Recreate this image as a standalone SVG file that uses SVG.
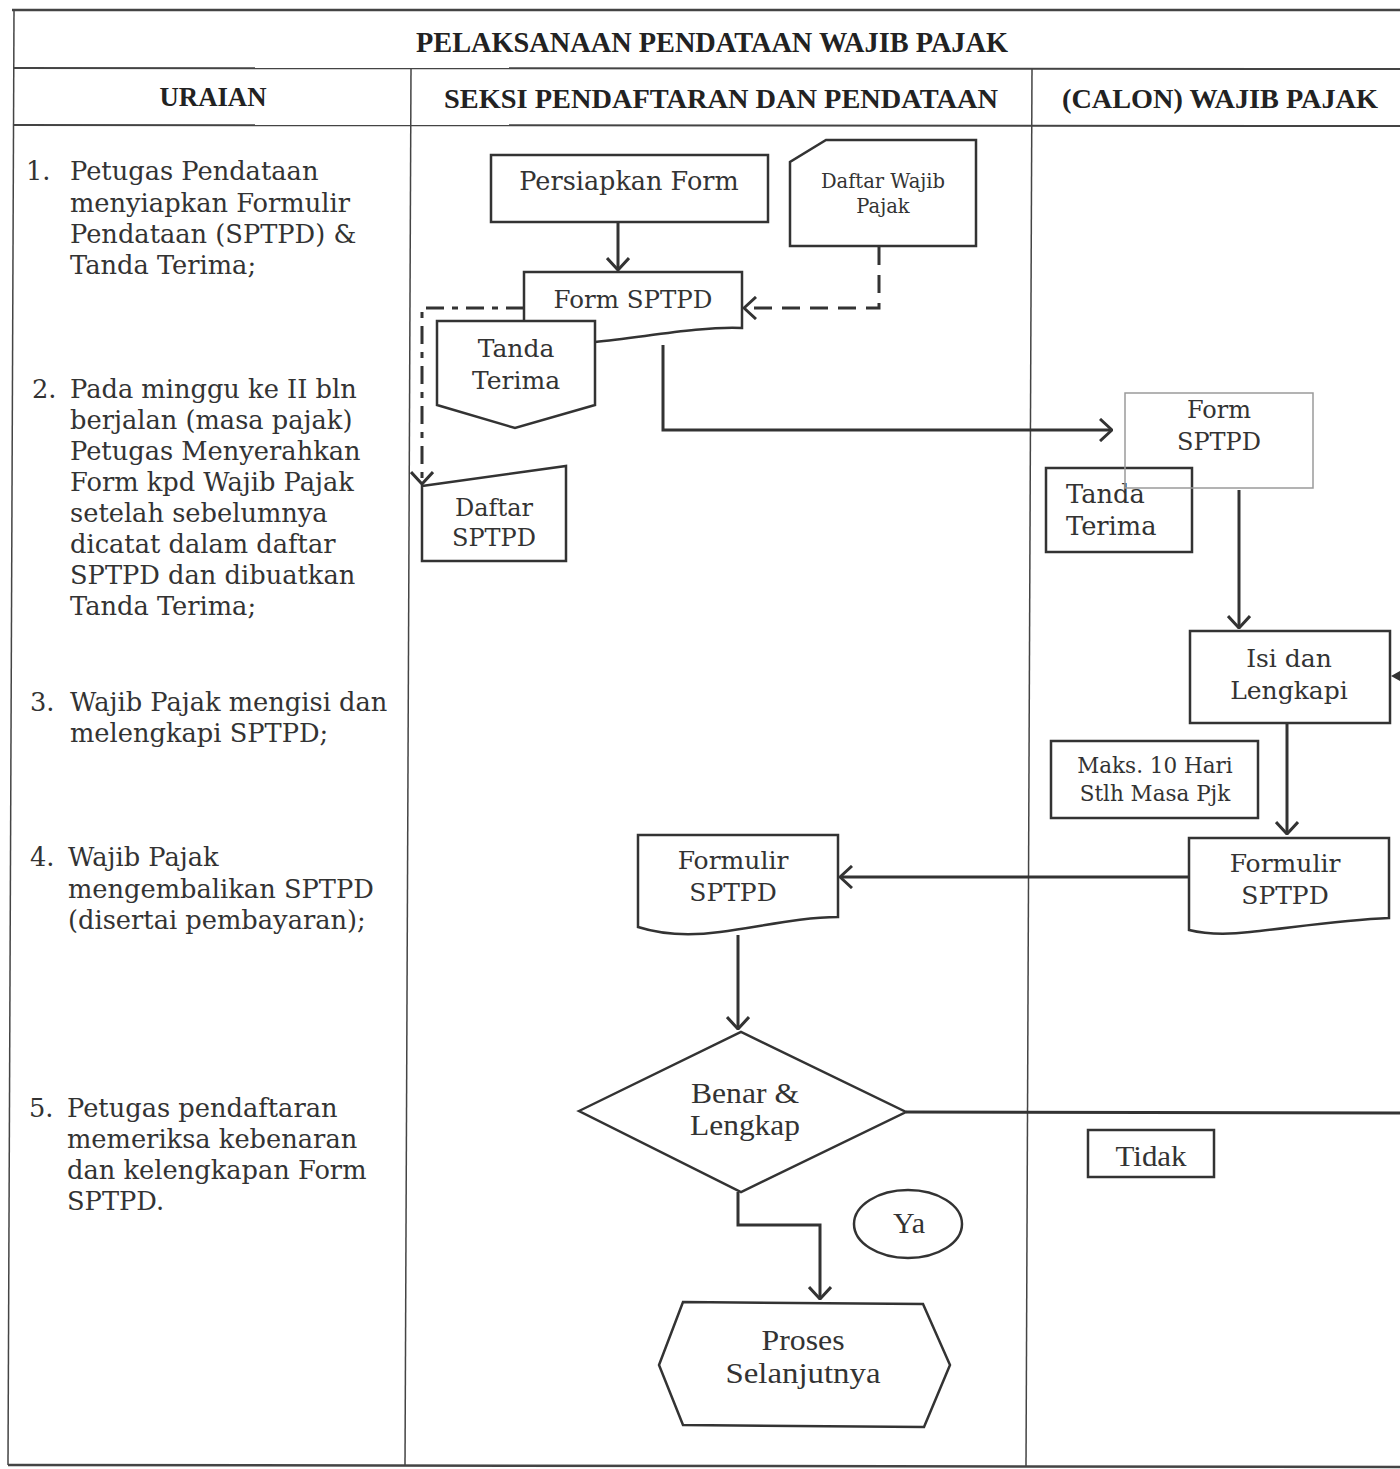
<svg xmlns="http://www.w3.org/2000/svg" width="1400" height="1469" viewBox="0 0 1400 1469">
<style>
.tbl{stroke:#444;fill:none}
.hd{font-family:"Liberation Serif",serif;font-weight:bold;fill:#222}
.desc{font-family:"DejaVu Serif",serif;font-size:25.7px;fill:#333}
.lbl{font-family:"DejaVu Serif",serif;fill:#333;text-anchor:middle}
.cnd{font-family:"Liberation Serif",serif;fill:#333;text-anchor:middle}
.shape{fill:#fff;stroke:#333;stroke-width:2.5}
.conn{fill:none;stroke:#333;stroke-width:3}
</style>
<defs>
<marker id="arr" viewBox="0 0 14 24" refX="13" refY="12" markerWidth="14" markerHeight="24" markerUnits="userSpaceOnUse" orient="auto">
<path d="M1,1 L13,12 L1,23" fill="none" stroke="#333" stroke-width="3"/>
</marker>
</defs>
<rect width="1400" height="1469" fill="#fff"/>

<g id="table">
<line class="tbl" x1="12" y1="10" x2="1400" y2="10" stroke-width="2.5"/>
<line class="tbl" x1="13" y1="68" x2="1400" y2="69" stroke-width="2"/>
<line class="tbl" x1="13" y1="125" x2="1400" y2="126" stroke-width="2"/>
<line class="tbl" x1="8" y1="1465" x2="1400" y2="1467" stroke-width="2.5"/>
<line class="tbl" x1="14" y1="10" x2="8" y2="1465" stroke-width="1.5"/>
<line class="tbl" x1="411" y1="68" x2="405" y2="1466" stroke-width="1.5"/>
<line class="tbl" x1="1032" y1="68" x2="1026" y2="1466" stroke-width="1.5"/>
<text class="hd" x="712" y="52" font-size="29" text-anchor="middle" textLength="592" lengthAdjust="spacingAndGlyphs">PELAKSANAAN PENDATAAN WAJIB PAJAK</text>
<text class="hd" x="213" y="106" font-size="27" text-anchor="middle" textLength="107" lengthAdjust="spacingAndGlyphs">URAIAN</text>
<text class="hd" x="721" y="108" font-size="28" text-anchor="middle" textLength="554" lengthAdjust="spacingAndGlyphs">SEKSI PENDAFTARAN DAN PENDATAAN</text>
<text class="hd" x="1220" y="108" font-size="28" text-anchor="middle" textLength="316" lengthAdjust="spacingAndGlyphs">(CALON) WAJIB PAJAK</text>
</g>

<g id="uraian">
<text class="desc" x="26" y="180">1.</text>
<text class="desc" x="70" y="180">Petugas Pendataan</text>
<text class="desc" x="70" y="212">menyiapkan Formulir</text>
<text class="desc" x="70" y="243">Pendataan (SPTPD) &amp;</text>
<text class="desc" x="70" y="274">Tanda Terima;</text>
<text class="desc" x="32" y="398">2.</text>
<text class="desc" x="70" y="398">Pada minggu ke II bln</text>
<text class="desc" x="70" y="429">berjalan (masa pajak)</text>
<text class="desc" x="70" y="460">Petugas Menyerahkan</text>
<text class="desc" x="70" y="491">Form kpd Wajib Pajak</text>
<text class="desc" x="70" y="522">setelah sebelumnya</text>
<text class="desc" x="70" y="553">dicatat dalam daftar</text>
<text class="desc" x="70" y="584">SPTPD dan dibuatkan</text>
<text class="desc" x="70" y="615">Tanda Terima;</text>
<text class="desc" x="30" y="711">3.</text>
<text class="desc" x="70" y="711">Wajib Pajak mengisi dan</text>
<text class="desc" x="70" y="742">melengkapi SPTPD;</text>
<text class="desc" x="30" y="866">4.</text>
<text class="desc" x="68" y="866">Wajib Pajak</text>
<text class="desc" x="68" y="898">mengembalikan SPTPD</text>
<text class="desc" x="68" y="929">(disertai pembayaran);</text>
<text class="desc" x="29" y="1117">5.</text>
<text class="desc" x="67" y="1117">Petugas pendaftaran</text>
<text class="desc" x="67" y="1148">memeriksa kebenaran</text>
<text class="desc" x="67" y="1179">dan kelengkapan Form</text>
<text class="desc" x="67" y="1210">SPTPD.</text>
</g>

<g id="connectors">
<line class="conn" x1="618" y1="222" x2="618" y2="270" marker-end="url(#arr)"/>
<polyline class="conn" points="879,247 879,308 744,308" stroke-dasharray="18,10" marker-end="url(#arr)"/>
<polyline class="conn" points="524,308 422,308 422,484" stroke-dasharray="18,8,6,8" marker-end="url(#arr)"/>
<polyline class="conn" points="663,345 663,430 1112,430" marker-end="url(#arr)"/>
<line class="conn" x1="1239" y1="490" x2="1239" y2="628" marker-end="url(#arr)"/>
<line class="conn" x1="1287" y1="724" x2="1287" y2="834" marker-end="url(#arr)"/>
<line class="conn" x1="1189" y1="877" x2="840" y2="877" marker-end="url(#arr)"/>
<line class="conn" x1="738" y1="935" x2="738" y2="1029" marker-end="url(#arr)"/>
<line class="conn" x1="906" y1="1112" x2="1400" y2="1113"/>
<polyline class="conn" points="738,1192 738,1225 820,1225 820,1299" marker-end="url(#arr)"/>
<polygon points="1391,676 1400,671 1400,681" fill="#333"/>
</g>

<g id="persiapkan-form">
<rect class="shape" x="491" y="155" width="277" height="67"/>
<text class="lbl" x="629" y="190" font-size="25.5">Persiapkan Form</text>
</g>

<g id="daftar-wajib-pajak">
<path class="shape" d="M826,140 H976 V246 H790 V162 Z"/>
<text class="lbl" x="883" y="188" font-size="19.5">Daftar Wajib</text>
<text class="lbl" x="883" y="213" font-size="19.5">Pajak</text>
</g>

<g id="form-sptpd">
<path class="shape" d="M524,272 H742 V328 C700,326 640,338 595,342 C560,345 540,340 524,336 Z"/>
<text class="lbl" x="633" y="308" font-size="24.5">Form SPTPD</text>
</g>

<g id="tanda-terima">
<polygon class="shape" points="437,321 595,321 595,405 515,428 437,405"/>
<text class="lbl" x="516" y="357" font-size="25">Tanda</text>
<text class="lbl" x="516" y="389" font-size="25">Terima</text>
</g>

<g id="daftar-sptpd">
<polygon class="shape" points="422,486 566,466 566,561 422,561"/>
<text class="lbl" x="494" y="516" font-size="24">Daftar</text>
<text class="lbl" x="494" y="546" font-size="24">SPTPD</text>
</g>

<g id="tanda-terima-wp">
<rect class="shape" x="1046" y="468" width="146" height="84"/>
<text class="desc" x="1066" y="503" font-size="24">Tanda</text>
<text class="desc" x="1066" y="535" font-size="24">Terima</text>
</g>

<g id="form-sptpd-wp">
<rect x="1125" y="393" width="188" height="95" fill="none" stroke="#9a9a9a" stroke-width="1.5"/>
<text class="lbl" x="1219" y="418" font-size="24">Form</text>
<text class="lbl" x="1219" y="450" font-size="24">SPTPD</text>
</g>

<g id="isi-dan-lengkapi">
<rect class="shape" x="1190" y="631" width="200" height="92"/>
<text class="lbl" x="1289" y="667" font-size="25">Isi dan</text>
<text class="lbl" x="1289" y="699" font-size="25">Lengkapi</text>
</g>

<g id="maks-10-hari">
<rect class="shape" x="1051" y="741" width="207" height="77"/>
<text class="lbl" x="1155" y="773" font-size="21.5">Maks. 10 Hari</text>
<text class="lbl" x="1155" y="801" font-size="21.5">Stlh Masa Pjk</text>
</g>

<g id="formulir-sptpd-wp">
<path class="shape" d="M1189,838 H1389 V918 C1340,920 1290,928 1250,932 C1225,935 1205,934 1189,930 Z"/>
<text class="lbl" x="1285" y="872" font-size="25">Formulir</text>
<text class="lbl" x="1285" y="904" font-size="25">SPTPD</text>
</g>

<g id="formulir-sptpd">
<path class="shape" d="M638,835 H838 V917 C800,917 760,927 720,932 C690,936 660,934 638,927 Z"/>
<text class="lbl" x="733" y="869" font-size="25">Formulir</text>
<text class="lbl" x="733" y="901" font-size="25">SPTPD</text>
</g>

<g id="benar-lengkap">
<polygon class="shape" points="579,1111 741,1032 906,1112 741,1192"/>
<text class="cnd" x="745" y="1103" font-size="30" textLength="108" lengthAdjust="spacingAndGlyphs">Benar &amp;</text>
<text class="cnd" x="745" y="1135" font-size="30" textLength="110" lengthAdjust="spacingAndGlyphs">Lengkap</text>
</g>

<g id="tidak">
<rect class="shape" x="1088" y="1130" width="126" height="47"/>
<text class="cnd" x="1151" y="1166" font-size="30" textLength="71" lengthAdjust="spacingAndGlyphs">Tidak</text>
</g>

<g id="ya">
<ellipse class="shape" cx="908" cy="1224" rx="54" ry="34"/>
<text class="cnd" x="909" y="1233" font-size="30">Ya</text>
</g>

<g id="proses-selanjutnya">
<polygon class="shape" points="683,1302 923,1304 950,1365 924,1427 683,1425 659,1365"/>
<text class="cnd" x="803" y="1350" font-size="30" textLength="83" lengthAdjust="spacingAndGlyphs">Proses</text>
<text class="cnd" x="803" y="1383" font-size="30" textLength="155" lengthAdjust="spacingAndGlyphs">Selanjutnya</text>
</g>
</svg>
